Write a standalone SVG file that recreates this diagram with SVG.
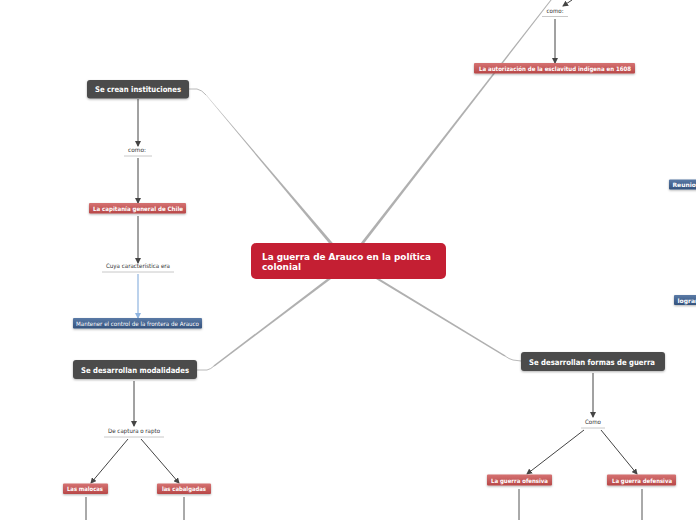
<svg xmlns="http://www.w3.org/2000/svg" width="696" height="520" viewBox="0 0 696 520">
<style>
.dark{fill:#4b4b4b;}
.red{fill:url(#gRed);}
.blue{fill:url(#gBlue);}
.tw{font-family:"DejaVu Sans",Verdana,sans-serif;font-weight:bold;fill:#fff;}
.tn{font-family:"DejaVu Sans",Verdana,sans-serif;font-weight:normal;fill:#fff;}
.tl{font-family:"DejaVu Sans",Verdana,sans-serif;fill:#333;font-size:6px;}
.ul{stroke:#c8c8c8;stroke-width:1;}
.arr{stroke:#444;stroke-width:1;fill:none;marker-end:url(#ah);}
.arrb{stroke:#8fb4e0;stroke-width:1.2;fill:none;marker-end:url(#ahb);}
.ln{stroke:#555;stroke-width:1;fill:none;}
.br{fill:#b0b0b0;}
.thin{stroke:#b8b8b8;stroke-width:1;fill:none;}
</style>
<defs>
<linearGradient id="gRed" x1="0" y1="0" x2="0" y2="1">
<stop offset="0" stop-color="#d57272"/><stop offset="1" stop-color="#b84848"/>
</linearGradient>
<linearGradient id="gBlue" x1="0" y1="0" x2="0" y2="1">
<stop offset="0" stop-color="#5a7aa6"/><stop offset="1" stop-color="#34527d"/>
</linearGradient>
<filter id="sh" x="-10%" y="-20%" width="120%" height="160%">
<feDropShadow dx="0" dy="1" stdDeviation="0.8" flood-color="#000" flood-opacity="0.3"/>
</filter>
<marker id="ah" markerWidth="6" markerHeight="6" refX="5" refY="3" orient="auto" markerUnits="userSpaceOnUse">
<path d="M0,0 L6,3 L0,6 z" fill="#444"/>
</marker>
<marker id="ahb" markerWidth="6" markerHeight="6" refX="5" refY="3" orient="auto" markerUnits="userSpaceOnUse">
<path d="M0,0 L6,3 L0,6 z" fill="#8fb4e0"/>
</marker>
</defs>
<rect width="696" height="520" fill="#fff"/>

<g id="connectors">
<polygon class="br" points="358.5,246 362,246 551.6,0 550.4,0"/>
<path class="thin" d="M189,89 L197,89 Q202,90 206,95"/>
<polygon class="br" points="205.5,94.5 206.5,95.3 337,248 333,248"/>
<path class="thin" d="M197,370 L207,370 Q211,369 214,366"/>
<polygon class="br" points="213.5,365.5 214.5,366.5 331,279 327,279"/>
<path class="thin" d="M521,361 L513,360 Q509,359 505,356"/>
<polygon class="br" points="505.5,355.5 504.5,356.5 376,279 380,279"/>
<line class="arr" x1="572" y1="0" x2="563" y2="6"/>
<line class="arr" x1="555" y1="19" x2="555" y2="63"/>
<line class="arr" x1="138" y1="99" x2="138" y2="146"/>
<line class="arr" x1="138" y1="158" x2="138" y2="203"/>
<line class="arr" x1="138" y1="216" x2="138" y2="263"/>
<line class="arrb" x1="138" y1="274" x2="138" y2="318"/>
<line class="arr" x1="134" y1="381" x2="134" y2="426"/>
<line class="arr" x1="128" y1="439" x2="91" y2="483"/>
<line class="arr" x1="141" y1="439" x2="179" y2="483"/>
<line class="ln" x1="86" y1="497" x2="86" y2="520"/>
<line class="ln" x1="184" y1="497" x2="184" y2="520"/>
<line class="arr" x1="593" y1="373" x2="593" y2="417"/>
<line class="arr" x1="584" y1="430" x2="527" y2="474"/>
<line class="arr" x1="601" y1="430" x2="637" y2="474"/>
<line class="ln" x1="519" y1="489" x2="519" y2="520"/>
<line class="ln" x1="642" y1="489" x2="642" y2="520"/>
</g>

<g id="center">
<rect x="251" y="243" width="195" height="36" rx="5" fill="#c41f33"/>
<text class="tw" x="262" y="260" font-size="9.5" textLength="169" lengthAdjust="spacingAndGlyphs">La guerra de Arauco en la política</text>
<text class="tw" x="262" y="270" font-size="9.5" textLength="39" lengthAdjust="spacingAndGlyphs">colonial</text>
</g>

<g id="como-top">
<text class="tl" x="555" y="13" text-anchor="middle" textLength="17" lengthAdjust="spacingAndGlyphs">como:</text>
<line class="ul" x1="542" y1="16.5" x2="568" y2="16.5"/>
</g>
<g id="autorizacion">
<rect class="red" x="474" y="63" width="161" height="10.5" rx="1" filter="url(#sh)"/>
<text class="tw" x="479" y="71" font-size="6" textLength="152" lengthAdjust="spacingAndGlyphs">La autorización de la esclavitud indígena en 1608</text>
</g>

<g id="instituciones">
<rect class="dark" x="87" y="80" width="102" height="18.5" rx="3" filter="url(#sh)"/>
<text class="tw" x="95" y="92" font-size="7.8" textLength="86" lengthAdjust="spacingAndGlyphs">Se crean instituciones</text>
</g>
<g id="como-left">
<text class="tl" x="137" y="152" text-anchor="middle" textLength="18" lengthAdjust="spacingAndGlyphs">como:</text>
<line class="ul" x1="124" y1="156" x2="152" y2="156"/>
</g>
<g id="capitania">
<rect class="red" x="89" y="203" width="97" height="10.5" rx="1" filter="url(#sh)"/>
<text class="tw" x="93" y="210.5" font-size="6" textLength="90" lengthAdjust="spacingAndGlyphs">La capitanía general de Chile</text>
</g>
<g id="cuya">
<text class="tl" x="106" y="268" textLength="64" lengthAdjust="spacingAndGlyphs">Cuya característica era</text>
<line class="ul" x1="102" y1="272" x2="174" y2="272"/>
</g>
<g id="mantener">
<rect class="blue" x="73" y="318" width="129" height="10.5" rx="1" filter="url(#sh)"/>
<text class="tn" x="76" y="326" font-size="6" textLength="123" lengthAdjust="spacingAndGlyphs">Mantener el control de la frontera de Arauco</text>
</g>

<g id="modalidades">
<rect class="dark" x="73" y="360" width="124" height="19" rx="3" filter="url(#sh)"/>
<text class="tw" x="81" y="372.5" font-size="7.8" textLength="108" lengthAdjust="spacingAndGlyphs">Se desarrollan modalidades</text>
</g>
<g id="captura">
<text class="tl" x="108" y="433" textLength="52" lengthAdjust="spacingAndGlyphs">De captura o rapto</text>
<line class="ul" x1="104" y1="437" x2="164" y2="437"/>
</g>
<g id="malocas">
<rect class="red" x="63" y="483.5" width="45" height="10.5" rx="1" filter="url(#sh)"/>
<text class="tw" x="67" y="491" font-size="6" textLength="36" lengthAdjust="spacingAndGlyphs">Las malocas</text>
</g>
<g id="cabalgadas">
<rect class="red" x="157" y="483.5" width="54" height="10.5" rx="1" filter="url(#sh)"/>
<text class="tw" x="162" y="491" font-size="6" textLength="44" lengthAdjust="spacingAndGlyphs">las cabalgadas</text>
</g>

<g id="formas">
<rect class="dark" x="521" y="352" width="144" height="19" rx="3" filter="url(#sh)"/>
<text class="tw" x="529" y="364.5" font-size="7.8" textLength="126" lengthAdjust="spacingAndGlyphs">Se desarrollan formas de guerra</text>
</g>
<g id="como-right">
<text class="tl" x="585" y="424" textLength="16" lengthAdjust="spacingAndGlyphs">Como</text>
<line class="ul" x1="581" y1="428" x2="605" y2="428"/>
</g>
<g id="ofensiva">
<rect class="red" x="487" y="474.5" width="65" height="11" rx="1" filter="url(#sh)"/>
<text class="tw" x="491" y="482.5" font-size="6" textLength="57" lengthAdjust="spacingAndGlyphs">La guerra ofensiva</text>
</g>
<g id="defensiva">
<rect class="red" x="607" y="474.5" width="69" height="11" rx="1" filter="url(#sh)"/>
<text class="tw" x="612" y="482.5" font-size="6" textLength="60" lengthAdjust="spacingAndGlyphs">La guerra defensiva</text>
</g>

<g id="reunion">
<rect class="blue" x="669" y="179.5" width="40" height="10" rx="1" filter="url(#sh)"/>
<text class="tw" x="672.5" y="187" font-size="6">Reunion</text>
</g>
<g id="logran">
<rect class="blue" x="674" y="295" width="40" height="10" rx="1" filter="url(#sh)"/>
<text class="tw" x="677.5" y="302.5" font-size="6">logran</text>
</g>
</svg>
